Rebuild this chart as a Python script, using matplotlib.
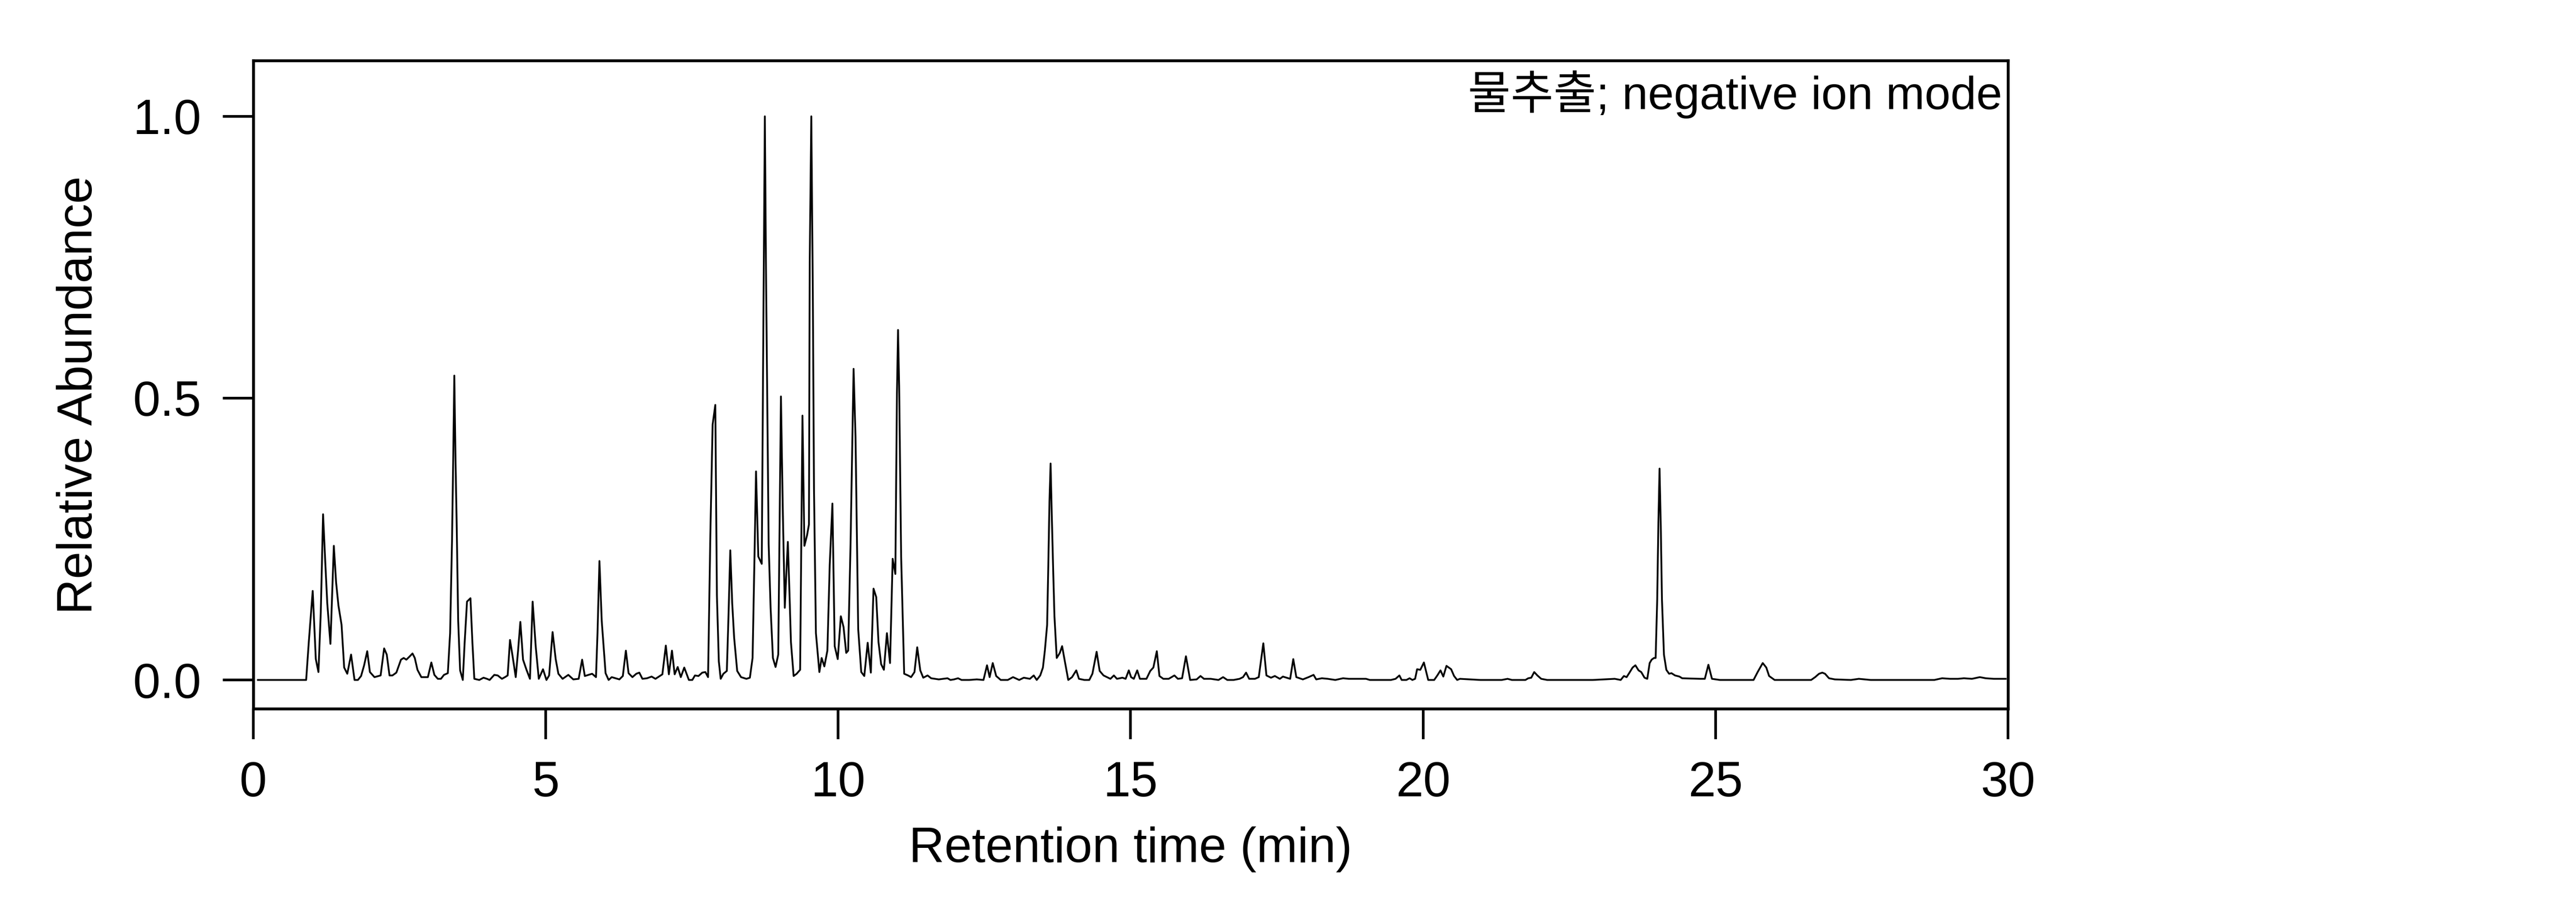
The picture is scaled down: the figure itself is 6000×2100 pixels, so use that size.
import matplotlib
matplotlib.use("Agg")
import matplotlib.pyplot as plt

plt.rcParams['font.family'] = ['Liberation Sans', 'Noto Sans CJK KR', 'DejaVu Sans']

# ---- data (retention time in min, relative abundance) ----
rt_a = [0.08, 0.905, 0.95, 1.017, 1.07, 1.115, 1.155, 1.194, 1.234, 1.266, 1.32, 1.378, 1.417, 1.457,
        1.51, 1.555, 1.608, 1.673, 1.732, 1.79, 1.844, 1.896, 1.949, 1.995, 2.073, 2.178, 2.238, 2.283,
        2.33, 2.38, 2.447, 2.526, 2.572, 2.618, 2.677, 2.723, 2.762, 2.808, 2.874, 2.986, 3.045, 3.097,
        3.156, 3.209, 3.261, 3.327, 3.366, 3.399, 3.419, 3.438, 3.458, 3.478, 3.504, 3.537, 3.583, 3.615,
        3.655, 3.714, 3.747, 3.78, 3.865, 3.937, 3.996, 4.042, 4.121, 4.18, 4.252, 4.304, 4.35, 4.39,
        4.436, 4.488, 4.528, 4.567, 4.613, 4.672, 4.731, 4.777, 4.829, 4.882, 4.954, 5.013]
ab_a = [0, 0, 0.067, 0.158, 0.037, 0.014, 0.12, 0.294, 0.204, 0.136, 0.064, 0.238, 0.173, 0.132,
        0.098, 0.022, 0.011, 0.045, 0, 0, 0.007, 0.026, 0.051, 0.014, 0.005, 0.008, 0.056, 0.045,
        0.008, 0.008, 0.013, 0.036, 0.039, 0.036, 0.042, 0.047, 0.039, 0.018, 0.005, 0.005, 0.031, 0.009,
        0.002, 0.002, 0.009, 0.012, 0.083, 0.249, 0.393, 0.54, 0.393, 0.279, 0.105, 0.017, 0, 0.067,
        0.139, 0.145, 0.067, 0.002, 0, 0.004, 0.002, 0, 0.009, 0.008, 0.002, 0.005, 0.008, 0.071,
        0.041, 0.005, 0.052, 0.103, 0.036, 0.018, 0.002, 0.139, 0.06, 0.002, 0.019, 0]

rt_b = [5.059, 5.118, 5.171, 5.217, 5.289, 5.387, 5.472, 5.564, 5.623, 5.669, 5.794, 5.86, 5.886, 5.919,
        5.958, 6.024, 6.076, 6.129, 6.26, 6.319, 6.371, 6.417, 6.483, 6.549, 6.601, 6.654, 6.732, 6.811,
        6.877, 6.995, 7.054, 7.106, 7.159, 7.205, 7.257, 7.31, 7.369, 7.448, 7.507, 7.552, 7.612, 7.677,
        7.73, 7.776, 7.815, 7.854, 7.9, 7.927, 7.96, 7.992, 8.038, 8.097, 8.123, 8.156, 8.189, 8.222,
        8.274, 8.34, 8.432, 8.491, 8.537, 8.57, 8.596, 8.635, 8.694, 8.72, 8.747, 8.766, 8.812, 8.845,
        8.885, 8.93, 8.976, 8.996, 9.022, 9.055, 9.088, 9.121, 9.14, 9.16, 9.193, 9.239, 9.291, 9.35,
        9.37, 9.39, 9.423, 9.469, 9.501, 9.514, 9.541, 9.567, 9.587, 9.62, 9.679, 9.718, 9.764, 9.816,
        9.856, 9.902, 9.941, 9.993, 10.046, 10.092, 10.138, 10.171]
ab_b = [0.008, 0.085, 0.037, 0.011, 0.002, 0.009, 0.001, 0.002, 0.036, 0.007, 0.011, 0.005, 0.083, 0.211,
        0.105, 0.012, 0, 0.005, 0.001, 0.007, 0.052, 0.012, 0.005, 0.011, 0.013, 0.002, 0.003, 0.006,
        0.002, 0.01, 0.061, 0.01, 0.052, 0.01, 0.023, 0.005, 0.022, 0, 0, 0.008, 0.007, 0.013,
        0.014, 0.005, 0.257, 0.453, 0.488, 0.151, 0.033, 0.002, 0.011, 0.016, 0.105, 0.23, 0.136, 0.075,
        0.016, 0.005, 0.002, 0.004, 0.039, 0.219, 0.37, 0.219, 0.206, 0.605, 1.0, 0.733, 0.241, 0.128,
        0.039, 0.023, 0.045, 0.241, 0.503, 0.294, 0.128, 0.204, 0.245, 0.181, 0.067, 0.007, 0.011, 0.018,
        0.241, 0.469, 0.238, 0.257, 0.276, 0.741, 1.0, 0.688, 0.34, 0.083, 0.014, 0.039, 0.024, 0.052,
        0.204, 0.313, 0.06, 0.037, 0.113, 0.094, 0.048, 0.052]

rt_c = [10.212, 10.264, 10.297, 10.343, 10.395, 10.447, 10.505, 10.559, 10.605, 10.651, 10.69, 10.735,
        10.782, 10.834, 10.887, 10.932, 10.978, 11.005, 11.024, 11.043, 11.077, 11.129, 11.195, 11.247,
        11.305, 11.352, 11.404, 11.455, 11.529, 11.59, 11.72, 11.87, 11.92, 11.98, 12.05, 12.11, 12.24,
        12.37, 12.485, 12.545, 12.59, 12.643, 12.702, 12.78, 12.9, 12.99, 13.095, 13.174, 13.278, 13.344,
        13.395, 13.455, 13.501, 13.534, 13.573, 13.593, 13.613, 13.632, 13.652, 13.678, 13.698, 13.737,
        13.79, 13.829, 13.881, 13.934, 13.999, 14.071, 14.117, 14.21, 14.294, 14.347, 14.419, 14.471,
        14.537, 14.655, 14.714, 14.766, 14.86, 14.915, 14.969, 15.008, 15.055, 15.113, 15.159]
ab_c = [0.241, 0.552, 0.431, 0.09, 0.014, 0.007, 0.066, 0.013, 0.162, 0.147, 0.067, 0.028,
        0.018, 0.083, 0.03, 0.215, 0.188, 0.506, 0.621, 0.521, 0.219, 0.011, 0.008, 0.005,
        0.014, 0.058, 0.017, 0.004, 0.008, 0.003, 0.001, 0.003, 0, 0.001, 0.003, 0, 0,
        0.001, 0, 0.026, 0.005, 0.03, 0.007, 0, 0, 0.005, 0, 0.004, 0.002, 0.008,
        0, 0.008, 0.022, 0.052, 0.098, 0.204, 0.317, 0.384, 0.294, 0.188, 0.113, 0.039,
        0.048, 0.06, 0.03, 0, 0.005, 0.017, 0.002, 0, 0, 0.011, 0.05, 0.016,
        0.008, 0.002, 0.008, 0.002, 0.004, 0.002, 0.017, 0.005, 0.002, 0.017, 0.002]

rt_d = [15.271, 15.336, 15.389, 15.448, 15.493, 15.559, 15.651, 15.749, 15.808, 15.88, 15.946, 16.018,
        16.129, 16.195, 16.254, 16.37, 16.503, 16.581, 16.653, 16.76, 16.863, 16.922, 16.974, 17.027,
        17.125, 17.191, 17.269, 17.322, 17.4, 17.466, 17.551, 17.604, 17.728, 17.781, 17.833, 17.945,
        18.042, 18.128, 18.173, 18.27, 18.37, 18.5, 18.632, 18.73, 19.025, 19.09, 19.45, 19.53, 19.595,
        19.634, 19.715, 19.77, 19.817, 19.864, 19.898, 19.953, 20.014, 20.088, 20.19, 20.244, 20.298,
        20.346, 20.4, 20.48, 20.53, 20.583, 20.63, 20.98, 21.343, 21.445, 21.52, 21.75, 21.798, 21.85,
        21.9, 21.954, 22.02, 22.123, 22.9]
ab_d = [0.002, 0.016, 0.022, 0.051, 0.007, 0.002, 0.002, 0.008, 0.002, 0.003, 0.042, 0,
        0.001, 0.007, 0.002, 0.002, 0, 0.005, 0, 0, 0.002, 0.005, 0.013, 0.002,
        0.002, 0.005, 0.065, 0.008, 0.004, 0.007, 0.002, 0.006, 0.002, 0.037, 0.005, 0.001,
        0.005, 0.009, 0.001, 0.003, 0.002, 0, 0.003, 0.002, 0.002, 0, 0, 0.002, 0.008,
        0, 0, 0.003, 0, 0.002, 0.019, 0.018, 0.031, 0, 0, 0.008, 0.017,
        0.006, 0.025, 0.019, 0.007, 0, 0.002, 0, 0, 0.002, 0, 0, 0.003, 0.004,
        0.014, 0.008, 0.002, 0, 0]

rt_e = [23.277, 23.379, 23.433, 23.48, 23.535, 23.582, 23.63, 23.684, 23.73, 23.786, 23.833, 23.874,
        23.908, 23.948, 23.976, 24.003, 24.023, 24.043, 24.064, 24.084, 24.118, 24.159, 24.206, 24.247,
        24.308, 24.383, 24.43, 24.735, 24.817, 24.878, 24.939, 25.075, 25.65, 25.72, 25.807, 25.868,
        25.916, 26.01, 26.635, 26.703, 26.77, 26.825, 26.872, 26.94, 27.04, 27.313, 27.45, 27.653,
        28.74, 28.874, 29.01, 29.145, 29.247, 29.383, 29.518, 29.62, 29.756, 29.96]
ab_e = [0.002, 0, 0.007, 0.005, 0.014, 0.022, 0.026, 0.017, 0.014, 0.004, 0.002, 0.03,
        0.036, 0.039, 0.039, 0.143, 0.279, 0.375, 0.272, 0.143, 0.045, 0.018, 0.011, 0.012,
        0.008, 0.006, 0.003, 0.002, 0.002, 0.027, 0.002, 0, 0, 0.014, 0.03, 0.022,
        0.007, 0, 0, 0.005, 0.011, 0.013, 0.011, 0.003, 0.001, 0, 0.002, 0,
        0, 0.003, 0.002, 0.002, 0.003, 0.002, 0.005, 0.003, 0.002, 0.002]

x_ticks = [0, 5, 10, 15, 20, 25, 30]
y_ticks = [0.0, 0.5, 1.0]
y_tick_labels = ["0.0", "0.5", "1.0"]
x_label = "Retention time (min)"
y_label = "Relative Abundance"
annotation = "물추출; negative ion mode"

retention_time = rt_a + rt_b + rt_c + rt_d + rt_e
abundance = ab_a + ab_b + ab_c + ab_d + ab_e

fig = plt.figure(figsize=(20, 7), dpi=300)
ax = fig.add_axes([0.0983, 0.2143, 0.6812, 0.7186])

ax.plot(retention_time, abundance, color='black', linewidth=1.0)

ax.set_xlim(0, 30)
ax.set_ylim(-0.051, 1.099)
ax.set_xticks(x_ticks)
ax.set_xticklabels([str(v) for v in x_ticks])
ax.set_yticks(y_ticks)
ax.set_yticklabels(y_tick_labels)

for s in ax.spines.values():
    s.set_linewidth(1.6)
    s.set_color('black')

ax.tick_params(axis='both', which='major', direction='out', length=17, width=1.5,
               pad=12, labelsize=27.5, colors='black')
ax.tick_params(top=False, right=False)

ax.set_xlabel(x_label, fontsize=27.5, labelpad=11)
ax.set_ylabel(y_label, fontsize=27.5)
ax.yaxis.set_label_coords(-0.0861, 0.484)

ax.text(0.9968, 0.925, annotation, transform=ax.transAxes, ha='right', va='baseline',
        fontsize=26, color='black')

fig.savefig("out.png", dpi=300, facecolor='white')
